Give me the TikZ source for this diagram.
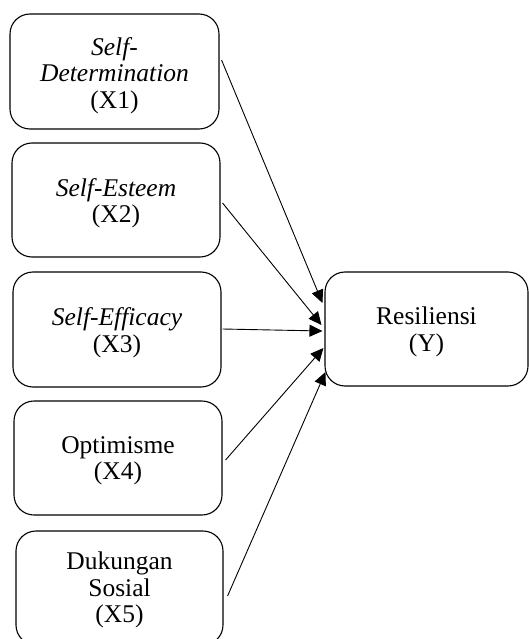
\documentclass[tikz,border=0pt]{standalone}
\usepackage{fontspec}
\setmainfont{Liberation Serif}
\usetikzlibrary{arrows.meta,calc}
\begin{document}
\begin{tikzpicture}[x=1pt,y=-1pt,
  box/.style={draw=black,line width=1.1pt,rounded corners=20pt,inner sep=0pt,
    align=center,font=\fontsize{25.5}{26.5}\selectfont,text=black},
  lbl/.style={align=center,font=\fontsize{25.5}{26.5}\selectfont,text=black,inner sep=0pt},
  conn/.style={line width=0.9pt,-{Triangle[length=13pt,width=12pt]}}]
\useasboundingbox (0,0) rectangle (529,639);
\node[box,minimum width=209pt,minimum height=115pt] (b1) at (114.5,71.5) {};
\node[box,minimum width=208pt,minimum height=114pt] (b2) at (116,200) {};
\node[box,minimum width=208pt,minimum height=115pt] (b3) at (117,329.5) {};
\node[box,minimum width=208pt,minimum height=114pt] (b4) at (118,458) {};
\node[box,minimum width=207pt,minimum height=114pt] (b5) at (119.5,588) {};
\node[box,minimum width=203pt,minimum height=114pt] (r) at (426.5,329) {};
\node[lbl] (l1) at ($(b1.center)+(0,4)$) {\textit{Self-}\\\textit{Determination}\\(X1)};
\node[lbl] (l2) at ($(b2.center)+(0,3)$) {\textit{Self-Esteem}\\(X2)};
\node[lbl] (l3) at ($(b3.center)+(0,3)$) {\textit{Self-Efficacy}\\(X3)};
\node[lbl] (l4) at ($(b4.center)+(0,3)$) {Optimisme\\(X4)};
\node[lbl] (l5) at ($(b5.center)+(0,2)$) {Dukungan\\Sosial\\(X5)};
\node[lbl] (lr) at ($(r.center)+(0,3)$) {Resiliensi\\(Y)};
\coordinate (s1) at ($(b1.east)+(2,-11.5)$);
\coordinate (s2) at ($(b2.east)+(2,3)$);
\coordinate (s3) at ($(b3.east)+(1,-0.5)$);
\coordinate (s4) at ($(b4.east)+(3,2)$);
\coordinate (s5) at ($(b5.east)+(4,8)$);
\coordinate (t1) at ($(r.west)+(-2,-26)$);
\coordinate (t2) at ($(r.west)+(-3,-4)$);
\coordinate (t3) at ($(r.west)+(-2,2)$);
\coordinate (t4) at ($(r.west)+(-1,19)$);
\coordinate (t5) at ($(r.west)+(1,43)$);
\draw[conn] (s1) -- (t1);
\draw[conn] (s2) -- (t2);
\draw[conn] (s3) -- (t3);
\draw[conn] (s4) -- (t4);
\draw[conn] (s5) -- (t5);
\end{tikzpicture}
\end{document}
